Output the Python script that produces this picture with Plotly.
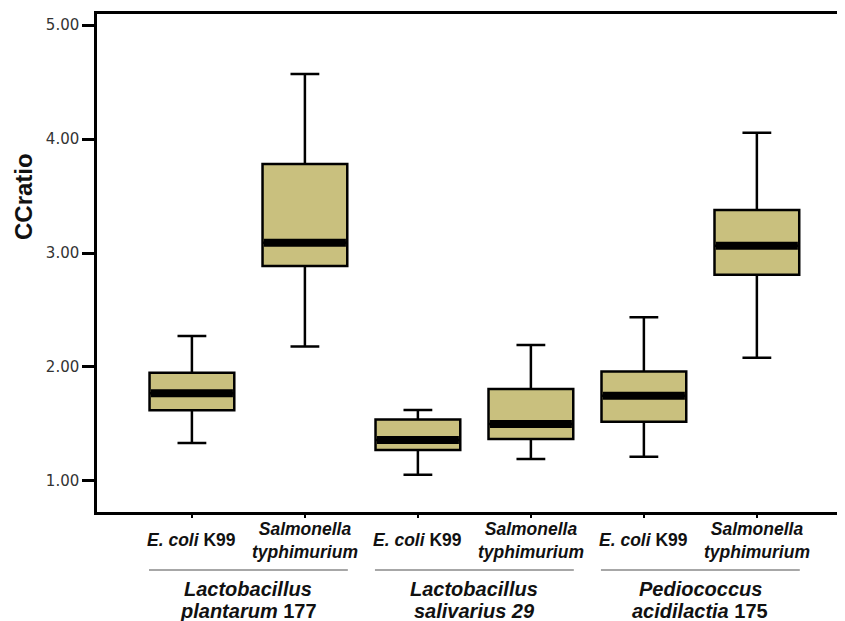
import plotly.graph_objects as go

# ---- data ----
strains = ["E. coli K99", "Salmonella typhimurium"] * 3
groups = ["Lactobacillus plantarum 177", "Lactobacillus salivarius 29", "Pediococcus acidilactia 175"]
lower_whisker = [1.333, 2.18, 1.055, 1.193, 1.213, 2.08]
q1_vals = [1.62, 2.886, 1.272, 1.368, 1.52, 2.81]
medians = [1.77, 3.09, 1.36, 1.50, 1.747, 3.064]
q3_vals = [1.95, 3.78, 1.54, 1.807, 1.96, 3.377]
upper_whisker = [2.272, 4.57, 1.623, 2.193, 2.436, 4.055]

strain_labels = ["<b><i>E. coli</i> K99</b>", "<b><i>Salmonella<br>typhimurium</i></b>"] * 3
group_line1 = ["<b><i>Lactobacillus</i></b>", "<b><i>Lactobacillus</i></b>", "<b><i>Pediococcus</i></b>"]
group_line2 = ["<b><i>plantarum</i> 177</b>", "<b><i>salivarius 29</i></b>", "<b><i>acidilactia</i> 175</b>"]
y_ticks = [1, 2, 3, 4, 5]

positions = list(range(len(strains)))
BOX_W = 0.75
FILL = "#c9c07e"

# page body has an 8px margin; size the figure so the plot area lands where the reference has it
W, H = 837, 613
ML, MT = 89, 6
PLOT_W = W - ML
PLOT_H = 498.0
MB = H - MT - int(PLOT_H)

fig = go.Figure()
fig.add_trace(go.Box(
    x=positions,
    q1=q1_vals, median=medians, q3=q3_vals,
    lowerfence=lower_whisker, upperfence=upper_whisker,
    width=BOX_W, whiskerwidth=0.34,
    fillcolor=FILL, line=dict(color="black", width=2.5),
    boxpoints=False, showlegend=False, hoverinfo="skip",
))

shapes = []
for p, m in zip(positions, medians):
    shapes.append(dict(type="line", xref="x", yref="y",
                       x0=p - BOX_W / 2 + 0.012, x1=p + BOX_W / 2 - 0.012, y0=m, y1=m,
                       line=dict(color="black", width=8), layer="above"))

annotations = []
for p, lab in zip(positions, strain_labels):
    annotations.append(dict(x=p, y=0, xref="x", yref="paper", yshift=-28,
                            text=lab, showarrow=False, xanchor="center", yanchor="middle",
                            font=dict(family="Liberation Sans, Arial", size=17.5, color="#111")))

for g in range(len(groups)):
    a, b = positions[2 * g], positions[2 * g + 1]
    shapes.append(dict(type="line", xref="x", yref="paper",
                       x0=a - 0.38, x1=b + 0.38, y0=-58 / PLOT_H, y1=-58 / PLOT_H,
                       line=dict(color="#8a8a8a", width=1.5)))
    cx = (a + b) / 2
    annotations.append(dict(x=cx, y=0, xref="x", yref="paper", yshift=-77,
                            text=group_line1[g], showarrow=False, xanchor="center", yanchor="middle",
                            font=dict(family="Liberation Sans, Arial", size=20, color="#111")))
    annotations.append(dict(x=cx, y=0, xref="x", yref="paper", yshift=-99,
                            text=group_line2[g], showarrow=False, xanchor="center", yanchor="middle",
                            font=dict(family="Liberation Sans, Arial", size=20, color="#111")))

annotations.append(dict(x=-74 / PLOT_W, y=(498 - 183) / PLOT_H, xref="paper", yref="paper",
                        text="<b>CCratio</b>", textangle=-90, showarrow=False,
                        xanchor="center", yanchor="middle",
                        font=dict(family="Liberation Sans, Arial", size=24, color="#111")))

fig.update_layout(
    width=W, height=H,
    margin=dict(l=ML, r=0, t=MT, b=MB),
    paper_bgcolor="white", plot_bgcolor="white",
    shapes=shapes, annotations=annotations,
    showlegend=False,
    xaxis=dict(range=[-0.84, 5.78], tickvals=positions, showticklabels=False,
               ticks="outside", ticklen=3, tickwidth=1.5, tickcolor="black",
               showline=True, linecolor="black", linewidth=2.5, mirror=True,
               showgrid=False, zeroline=False, fixedrange=True),
    yaxis=dict(range=[0.728, 5.0965], tickvals=y_ticks, tickformat=".2f",
               ticks="outside", ticklen=12, tickwidth=2.5, tickcolor="black",
               tickfont=dict(family="DejaVu Sans", size=15, color="#333"),
               showline=True, linecolor="black", linewidth=2.5, mirror=False,
               showgrid=False, zeroline=False, fixedrange=True),
)

fig.write_html("out.html")
